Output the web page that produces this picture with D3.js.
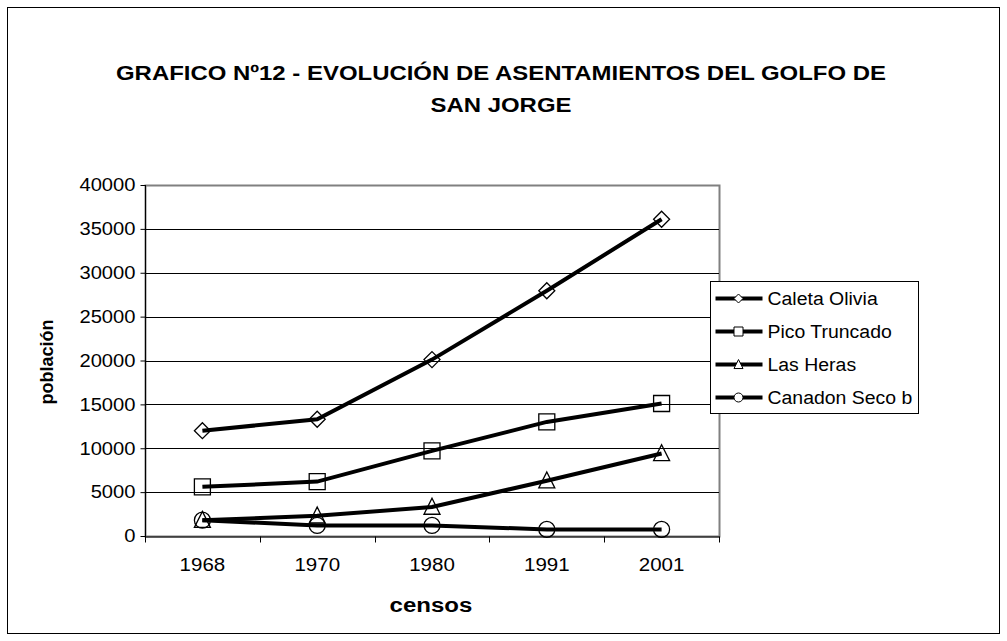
<!DOCTYPE html>
<html>
<head>
<meta charset="utf-8">
<script src="https://cdn.jsdelivr.net/npm/d3@7"></script>
<style>
  body { margin: 0; background: #fff; }
  text { font-family: "Liberation Sans", Arial, sans-serif; }
</style>
</head>
<body>
<svg id="chart" width="1007" height="641"></svg>
<script>
var censos = ["1968", "1970", "1980", "1991", "2001"]
var caletaOlivia = [12000, 13300, 20100, 27950, 36100]
var picoTruncado = [5600, 6200, 9700, 13000, 15100]
var lasHeras = [1800, 2300, 3300, 6300, 9400]
var canadonSeco = [1800, 1200, 1200, 750, 750]
var seriesNames = ["Caleta Olivia", "Pico Truncado", "Las Heras", "Canadon Seco b"]
var seriesShapes = ["diamond", "square", "triangle", "circle"]
var yTicks = [0, 5000, 10000, 15000, 20000, 25000, 30000, 35000, 40000]

var series = [caletaOlivia, picoTruncado, lasHeras, canadonSeco]

var svg = d3.select("#chart"),
    margin = {top: 185, right: 288, bottom: 105, left: 145},
    width = 1007 - margin.left - margin.right,
    height = 641 - margin.top - margin.bottom;

// the original text is rendered a bit wider than Liberation Sans
function widen(sel, k) {
  sel.each(function() {
    var w = this.getComputedTextLength();
    d3.select(this).attr("textLength", w * k).attr("lengthAdjust", "spacingAndGlyphs");
  });
}

// outer frame
svg.append("rect")
  .attr("x", 7.5).attr("y", 7.5)
  .attr("width", 992).attr("height", 626)
  .attr("fill", "#fff").attr("stroke", "#000").attr("stroke-width", 1);

var t1 = svg.append("text")
  .attr("x", 501).attr("y", 80)
  .attr("text-anchor", "middle")
  .attr("font-size", 21).attr("font-weight", "bold")
  .text("GRAFICO Nº12 - EVOLUCIÓN DE ASENTAMIENTOS DEL GOLFO DE");
var t2 = svg.append("text")
  .attr("x", 501).attr("y", 112)
  .attr("text-anchor", "middle")
  .attr("font-size", 21).attr("font-weight", "bold")
  .text("SAN JORGE");
widen(t1, 1.14);
widen(t2, 1.14);

var g = svg.append("g").attr("transform", "translate(" + margin.left + "," + margin.top + ")");

var x = d3.scaleBand().domain(censos).range([0, width]),
    y = d3.scaleLinear().domain([0, 40000]).range([height, 0]);

// plot border (grey) and gridlines
g.append("rect")
  .attr("x", 0.5).attr("y", 0.5)
  .attr("width", width).attr("height", height)
  .attr("fill", "none").attr("stroke", "#808080").attr("stroke-width", 2);

g.selectAll(".grid")
  .data(yTicks.slice(1, -1))
  .enter().append("line")
  .attr("x1", 0).attr("x2", width)
  .attr("y1", function(d) { return Math.round(y(d)) + 0.5; })
  .attr("y2", function(d) { return Math.round(y(d)) + 0.5; })
  .attr("stroke", "#000").attr("stroke-width", 1);

var yAxis = g.append("g")
  .attr("transform", "translate(0.5,0)")
  .call(d3.axisLeft(y).tickValues(yTicks).tickSize(5).tickPadding(5).tickFormat(d3.format("d")));
yAxis.select(".domain").attr("d", "M0,0V" + (height + 5));
yAxis.selectAll("text").attr("font-size", 18).attr("fill", "#000");
widen(yAxis.selectAll("text"), 1.12);

var xAxis = g.append("g")
  .attr("transform", "translate(0," + (height + 0.5) + ")")
  .call(d3.axisBottom(x).tickSize(0).tickPadding(22));
xAxis.select(".domain").attr("stroke", "#000");
xAxis.selectAll("text").attr("font-size", 18).attr("fill", "#000");
widen(xAxis.selectAll("text"), 1.14);
xAxis.selectAll(".bound")
  .data(d3.range(censos.length + 1))
  .enter().append("line")
  .attr("x1", function(i) { return Math.round(i * x.step()) + 0.5; })
  .attr("x2", function(i) { return Math.round(i * x.step()) + 0.5; })
  .attr("y1", 0).attr("y2", 6)
  .attr("stroke", "#000");

svg.append("text")
  .attr("transform", "translate(53,362) rotate(-90)")
  .attr("text-anchor", "middle")
  .attr("font-size", 18).attr("font-weight", "bold")
  .text("población");
var xt = svg.append("text")
  .attr("x", margin.left + width / 2 - 1).attr("y", 612)
  .attr("text-anchor", "middle")
  .attr("font-size", 20).attr("font-weight", "bold")
  .text("censos");
widen(xt, 1.2);

var symbolFor = {
  diamond: function(s) { return "M0," + (-s) + "L" + s + ",0L0," + s + "L" + (-s) + ",0Z"; },
  square: function(s) { return "M" + (-s) + "," + (-s) + "h" + (2 * s) + "v" + (2 * s) + "h" + (-2 * s) + "Z"; },
  triangle: function(s) { return "M0," + (-s * 1.1) + "L" + s + "," + (s * 0.9) + "L" + (-s) + "," + (s * 0.9) + "Z"; },
  circle: function(s) { return "M" + (-s) + ",0a" + s + "," + s + " 0 1,0 " + (2 * s) + ",0a" + s + "," + s + " 0 1,0 " + (-2 * s) + ",0"; }
};

var cx = function(i) { return x(censos[i]) + x.bandwidth() / 2; };

var line = d3.line()
  .x(function(d, i) { return cx(i); })
  .y(function(d) { return y(d); });

series.forEach(function(vals, k) {
  g.append("path")
    .datum(vals)
    .attr("d", line)
    .attr("fill", "none").attr("stroke", "#000").attr("stroke-width", 4);
});
series.forEach(function(vals, k) {
  g.selectAll(".m" + k)
    .data(vals)
    .enter().append("path")
    .attr("transform", function(d, i) { return "translate(" + cx(i) + "," + y(d) + ")"; })
    .attr("d", symbolFor[seriesShapes[k]](8))
    .attr("fill", "none").attr("stroke", "#000").attr("stroke-width", 1.3);
});

// legend
var legend = svg.append("g").attr("transform", "translate(710.5,281.5)");
legend.append("rect")
  .attr("width", 208).attr("height", 132)
  .attr("fill", "#fff").attr("stroke", "#000");
seriesNames.forEach(function(name, k) {
  var ly = 17 + k * 33;
  legend.append("line")
    .attr("x1", 5).attr("x2", 52).attr("y1", ly).attr("y2", ly)
    .attr("stroke", "#000").attr("stroke-width", 4);
  legend.append("path")
    .attr("transform", "translate(28," + ly + ")")
    .attr("d", symbolFor[seriesShapes[k]](4.5))
    .attr("fill", "#fff").attr("stroke", "#000").attr("stroke-width", 1);
  var lt = legend.append("text")
    .attr("x", 57).attr("y", ly + 6)
    .attr("font-size", 18)
    .text(name);
  widen(lt, 1.08);
});
</script>
</body>
</html>
